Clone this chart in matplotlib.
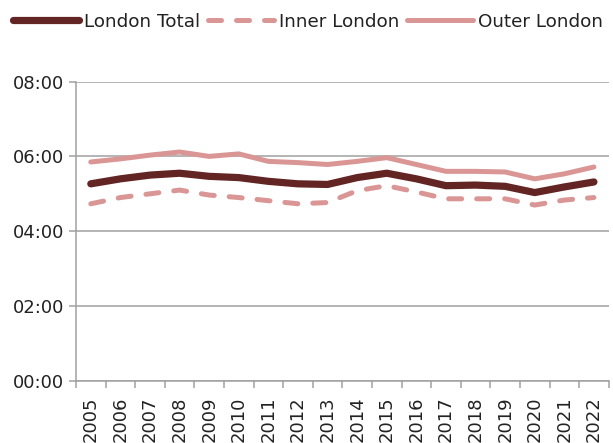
import matplotlib.pyplot as plt
from matplotlib.ticker import FuncFormatter, FixedLocator

years = [str(y) for y in range(2005, 2023)]
london_total = ['5:16', '5:24', '5:30', '5:33', '5:28', '5:26', '5:20', '5:16', '5:15',
                '5:26', '5:33', '5:24', '5:13', '5:14', '5:12', '5:02', '5:11', '5:19']
inner_london = ['4:44', '4:54', '5:00', '5:06', '4:58', '4:54', '4:49', '4:44', '4:46',
                '5:05', '5:13', '5:03', '4:52', '4:52', '4:52', '4:42', '4:50', '4:54']
outer_london = ['5:51', '5:56', '6:02', '6:07', '6:00', '6:04', '5:52', '5:50', '5:47',
                '5:52', '5:58', '5:47', '5:36', '5:36', '5:35', '5:24', '5:32', '5:43']


def to_minutes(vals):
    out = []
    for v in vals:
        h, m = v.split(':')
        out.append(int(h) * 60 + int(m))
    return out


dark = '#632523'
pink = '#D99694'
grey = '#A0A0A0'

plt.rcParams['font.family'] = 'DejaVu Sans'
fig = plt.figure(figsize=(6.13, 4.43), dpi=100)
ax = fig.add_axes([0.124, 0.14, 0.869, 0.676])

x = list(range(len(years)))
ax.plot(x, to_minutes(london_total), color=dark, lw=5.2, solid_capstyle='round',
        label='London Total', zorder=3)
ax.plot(x, to_minutes(inner_london), color=pink, lw=3.6, linestyle=(0, (2.6, 3.0)),
        dash_capstyle='round', label='Inner London', zorder=3)
ax.plot(x, to_minutes(outer_london), color=pink, lw=3.6, solid_capstyle='round',
        label='Outer London', zorder=3)

ax.set_ylim(0, 480)
ax.set_yticks([0, 120, 240, 360, 480])
ax.yaxis.set_major_formatter(FuncFormatter(lambda v, p: '%02d:%02d' % (v // 60, v % 60)))
ax.grid(axis='y', color=grey, lw=1.1)
ax.set_axisbelow(True)

ax.set_xlim(-0.5, len(years) - 0.5)
ax.set_xticks(x)
ax.set_xticklabels(years, rotation=90)
ax.xaxis.set_minor_locator(FixedLocator([i - 0.5 for i in range(len(years) + 1)]))
ax.tick_params(axis='x', which='major', length=0, pad=11, labelsize=13, colors='#222222')
ax.tick_params(axis='x', which='minor', length=5, width=1.1, color=grey)
ax.tick_params(axis='y', length=5, width=1.1, color=grey, labelsize=13, labelcolor='#222222')

for s in ['top', 'right']:
    ax.spines[s].set_visible(False)
for s in ['left', 'bottom']:
    ax.spines[s].set_color(grey)
    ax.spines[s].set_linewidth(1.1)

fig.legend(loc='upper left', bbox_to_anchor=(0.0, 1.0), ncol=3, frameon=False,
           fontsize=13.2, handlelength=3.6, handletextpad=0.3, columnspacing=0.4,
           borderpad=0.2, borderaxespad=0.5, labelcolor='#222222')

fig.savefig('out.png', dpi=100)
